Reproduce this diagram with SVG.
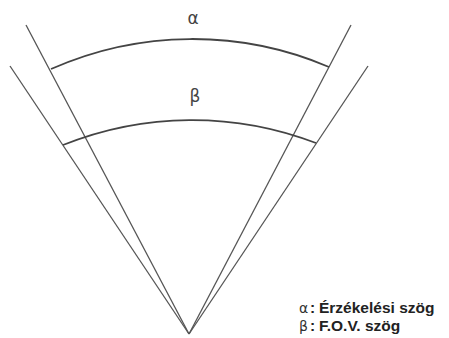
<svg xmlns="http://www.w3.org/2000/svg" width="449" height="338" viewBox="0 0 449 338">
<style>
.ln{fill:none;stroke:#555;stroke-width:1.3}
.arc{fill:none;stroke:#444;stroke-width:1.8}
.gk{font-family:"DejaVu Sans",sans-serif;font-size:17px;fill:#444;text-anchor:middle}
.lg{font-family:"Liberation Sans",Arial,sans-serif;font-size:15.5px;font-weight:bold;fill:#222}
.sym{font-family:"DejaVu Sans",sans-serif;font-size:14px;fill:#333}
</style>
<rect width="449" height="338" fill="#fff"/>
<g id="connectors">
<line class="ln" x1="26" y1="25" x2="189" y2="334"/>
<line class="ln" x1="351" y1="25" x2="189" y2="334"/>
<line class="ln" x1="10" y1="66" x2="189" y2="334"/>
<line class="ln" x1="368" y1="66" x2="189" y2="334"/>
</g>
<g id="alpha-arc">
<path class="arc" d="M51,69 A348,348 0 0 1 329,67"/>
<text class="gk" x="193" y="24">α</text>
</g>
<g id="beta-arc">
<path class="arc" d="M63,145 A346,346 0 0 1 316,143"/>
<text class="gk" x="195" y="102">β</text>
</g>
<g id="legend">
<text class="sym" x="299" y="313">α</text>
<text class="lg" x="310" y="313">:</text>
<text class="lg" x="319" y="313">Érzékelési szög</text>
<text class="sym" x="299" y="331">β</text>
<text class="lg" x="310" y="331">:</text>
<text class="lg" x="319" y="331">F.O.V. szög</text>
</g>
</svg>
